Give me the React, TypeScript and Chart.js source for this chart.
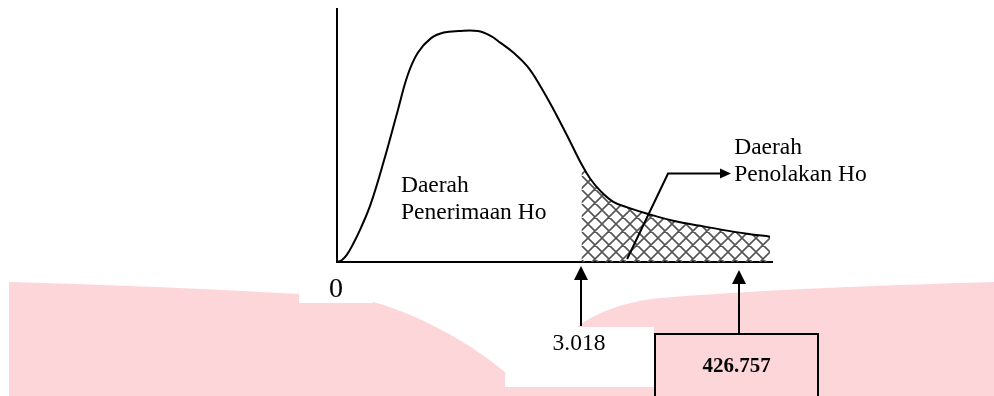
import { useEffect, useRef } from 'react';
import { Chart, registerables } from 'chart.js';

Chart.register(...registerables);

// F-distribution style density curve (abstract units)
const curveX = [0, 0.115, 0.229, 0.367, 0.55, 0.78, 1.078, 1.399, 1.628, 1.858, 2.156, 2.454, 2.798, 3.234, 3.532, 3.761, 4.06, 4.381, 4.679, 4.977, 5.298, 5.619, 5.826, 6.055, 6.353, 6.674, 7.133, 7.729, 8.349, 8.968, 9.427, 9.954];
const curveY = [0, 0.008, 0.029, 0.07, 0.135, 0.232, 0.4, 0.6, 0.74, 0.827, 0.884, 0.907, 0.913, 0.913, 0.894, 0.866, 0.827, 0.772, 0.694, 0.603, 0.497, 0.387, 0.328, 0.281, 0.238, 0.216, 0.191, 0.163, 0.143, 0.124, 0.112, 0.1];

// critical value (F table) and computed statistic positions on the x axis
const criticalX = 5.619;
const markerX = [5.619, 9.24];
const markerLabels = ['3.018', '426.757'];
const originLabel = '0';

const acceptLabel = ['Daerah', 'Penerimaan Ho'];
const acceptPos = [1.47, 0.277];
const rejectLabel = ['Daerah', 'Penolakan Ho'];
const rejectPos = [9.13, 0.426];
const pointerX = [6.67, 7.61, 8.85];
const pointerY = [0.012, 0.35, 0.35];

const PINK = '#FDD6DA';
const SERIF = '"Liberation Serif", "Times New Roman", serif';

function makeHatch(): CanvasPattern | string {
  const P = 14;
  const tile = document.createElement('canvas');
  tile.width = P;
  tile.height = P;
  const t = tile.getContext('2d');
  if (!t) return '#888';
  t.strokeStyle = '#555555';
  t.lineWidth = 1.6;
  t.beginPath();
  for (const o of [-P, 0, P]) {
    t.moveTo(o, 0);
    t.lineTo(o + P, P);
    t.moveTo(o + P, 0);
    t.lineTo(o, P);
  }
  t.stroke();
  const ctx = document.createElement('canvas').getContext('2d');
  return (ctx && ctx.createPattern(tile, 'repeat')) || '#888';
}

function upArrow(ctx: CanvasRenderingContext2D, x: number, tipY: number, endY: number) {
  ctx.save();
  ctx.strokeStyle = '#000';
  ctx.fillStyle = '#000';
  ctx.lineWidth = 2;
  ctx.beginPath();
  ctx.moveTo(x, tipY + 12);
  ctx.lineTo(x, endY);
  ctx.stroke();
  ctx.beginPath();
  ctx.moveTo(x, tipY);
  ctx.lineTo(x - 7, tipY + 14);
  ctx.lineTo(x + 7, tipY + 14);
  ctx.closePath();
  ctx.fill();
  ctx.restore();
}

const decor = {
  id: 'decor',
  beforeDraw(chart: any) {
    const ctx: CanvasRenderingContext2D = chart.ctx;
    ctx.save();
    ctx.fillStyle = '#fff';
    ctx.fillRect(0, 0, chart.width, chart.height);
    // pink backdrop band
    ctx.fillStyle = PINK;
    ctx.beginPath();
    ctx.moveTo(9, 396);
    ctx.lineTo(9, 282);
    ctx.quadraticCurveTo(160, 286, 299, 294);
    ctx.lineTo(373, 302);
    ctx.bezierCurveTo(410, 312, 460, 335, 505, 372);
    ctx.lineTo(515, 385);
    ctx.lineTo(570, 385);
    ctx.lineTo(577, 327);
    ctx.bezierCurveTo(595, 314, 620, 302, 661, 298);
    ctx.quadraticCurveTo(780, 288, 994, 282);
    ctx.lineTo(994, 396);
    ctx.closePath();
    ctx.fill();
    // white label patches
    ctx.fillStyle = '#fff';
    ctx.fillRect(299, 266, 74, 37);
    ctx.fillRect(505, 327, 149, 60);
    ctx.restore();
  },
  afterDraw(chart: any) {
    const ctx: CanvasRenderingContext2D = chart.ctx;
    const xs = chart.scales.x;
    const ys = chart.scales.y;
    const bottom = chart.chartArea.bottom;
    ctx.save();

    // region labels
    ctx.fillStyle = '#000';
    ctx.textAlign = 'left';
    ctx.textBaseline = 'alphabetic';
    ctx.font = `23.5px ${SERIF}`;
    const ax = xs.getPixelForValue(acceptPos[0]);
    const ay = ys.getPixelForValue(acceptPos[1]);
    acceptLabel.forEach((s, i) => ctx.fillText(s, ax, ay + i * 27));
    const rx = xs.getPixelForValue(rejectPos[0]);
    const ry = ys.getPixelForValue(rejectPos[1]);
    rejectLabel.forEach((s, i) => ctx.fillText(s, rx, ry + i * 27));

    // pointer to rejection region
    ctx.strokeStyle = '#000';
    ctx.lineWidth = 2;
    ctx.beginPath();
    pointerX.forEach((v, i) => {
      const px = xs.getPixelForValue(v);
      const py = ys.getPixelForValue(pointerY[i]);
      if (i === 0) ctx.moveTo(px, py);
      else ctx.lineTo(px, py);
    });
    ctx.stroke();
    const tipX = xs.getPixelForValue(pointerX[pointerX.length - 1]) + 9;
    const tipY = ys.getPixelForValue(pointerY[pointerY.length - 1]);
    ctx.fillStyle = '#000';
    ctx.beginPath();
    ctx.moveTo(tipX, tipY);
    ctx.lineTo(tipX - 11, tipY - 5);
    ctx.lineTo(tipX - 11, tipY + 5);
    ctx.closePath();
    ctx.fill();

    // origin label
    ctx.font = `28px ${SERIF}`;
    ctx.textAlign = 'center';
    ctx.fillText(originLabel, xs.getPixelForValue(0) - 1, bottom + 35);

    // critical value arrow + label
    const m1 = Math.round(xs.getPixelForValue(markerX[0]));
    upArrow(ctx, m1, bottom + 4, bottom + 64);
    ctx.font = `23.5px ${SERIF}`;
    ctx.fillText(markerLabels[0], m1 - 2, bottom + 88);

    // statistic arrow + boxed label
    const m2 = Math.round(xs.getPixelForValue(markerX[1]));
    upArrow(ctx, m2, bottom + 8, bottom + 72);
    ctx.fillStyle = PINK;
    ctx.fillRect(655, bottom + 72, 163, 70);
    ctx.strokeStyle = '#000';
    ctx.lineWidth = 2;
    ctx.strokeRect(655, bottom + 72, 163, 70);
    ctx.fillStyle = '#000';
    ctx.font = `bold 21px ${SERIF}`;
    ctx.fillText(markerLabels[1], (655 + 818) / 2, bottom + 110);

    ctx.restore();
  },
};

export default function App() {
  const ref = useRef<HTMLCanvasElement | null>(null);

  useEffect(() => {
    if (!ref.current) return;
    const pts = curveX.map((x, i) => ({ x, y: curveY[i] }));
    const hatchPts = pts.filter((p) => p.x >= criticalX);
    const chart = new Chart(ref.current, {
      type: 'line',
      data: {
        datasets: [
          {
            data: pts,
            borderColor: '#000',
            borderWidth: 2,
            pointRadius: 0,
            fill: false,
            tension: 0.4,
          },
          {
            data: hatchPts,
            borderWidth: 0,
            borderColor: 'rgba(0,0,0,0)',
            pointRadius: 0,
            fill: 'origin',
            backgroundColor: makeHatch() as any,
            tension: 0.4,
          },
        ],
      },
      options: {
        animation: false,
        responsive: false,
        events: [],
        layout: { padding: { left: 337, top: 9, right: 222, bottom: 134 } },
        plugins: { legend: { display: false }, tooltip: { enabled: false } },
        scales: {
          x: {
            type: 'linear',
            min: 0,
            max: 10,
            ticks: { display: false },
            grid: { display: false, drawTicks: false },
            border: { display: true, color: '#000', width: 2 },
            afterFit: (s: any) => {
              s.height = 0;
            },
          },
          y: {
            type: 'linear',
            min: 0,
            max: 1,
            ticks: { display: false },
            grid: { display: false, drawTicks: false },
            border: { display: true, color: '#000', width: 2 },
            afterFit: (s: any) => {
              s.width = 0;
            },
          },
        },
      },
      plugins: [decor],
    });
    return () => chart.destroy();
  }, []);

  return (
    <div style={{ position: 'absolute', left: 0, top: 0, width: 994, height: 396, background: '#fff' }}>
      <canvas ref={ref} width={994} height={396} style={{ display: 'block' }} />
    </div>
  );
}
